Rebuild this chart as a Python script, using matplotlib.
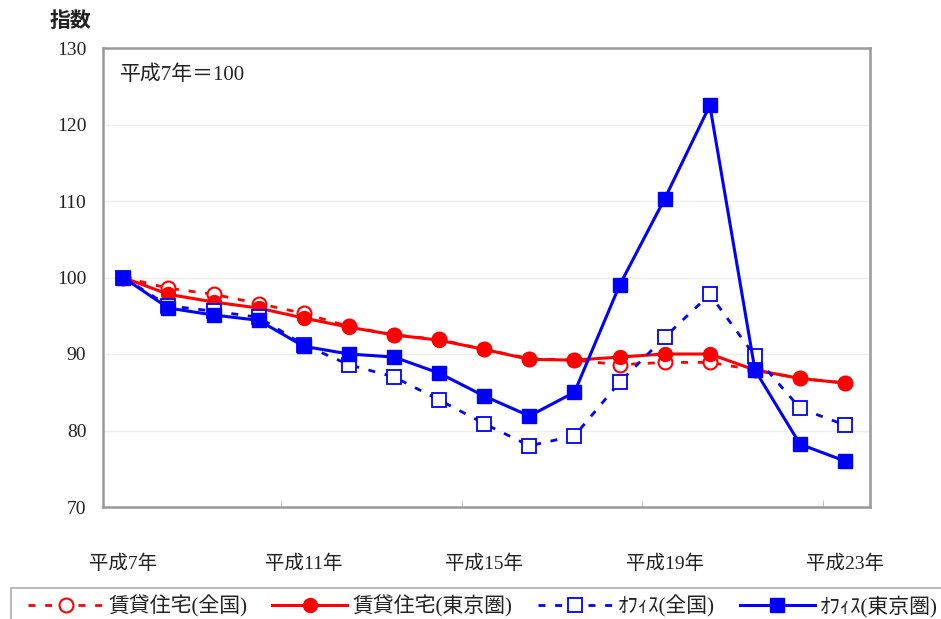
import matplotlib
matplotlib.use("Agg")
import matplotlib.pyplot as plt
from matplotlib.patches import Rectangle

plt.rcParams["font.family"] = ["Liberation Serif", "Noto Sans CJK JP"]

# 平成7年～平成23年, index (平成7年 = 100)
years = list(range(7, 24))
tick_labels = ["平成7年", "平成11年", "平成15年", "平成19年", "平成23年"]

rent_national = [100, 98.6, 97.8, 96.6, 95.3, 93.6, 92.5, 91.9, 90.6, 89.4,
                 89.2, 88.6, 88.9, 88.9, 87.9, 86.8, 86.2]
rent_tokyo = [100, 97.8, 96.8, 96.0, 94.7, 93.5, 92.5, 91.8, 90.6, 89.3,
              89.2, 89.6, 90.0, 90.0, 87.9, 86.8, 86.2]
office_national = [100, 96.3, 95.6, 94.8, 91.2, 88.6, 87.0, 84.0, 80.9, 78.0,
                   79.3, 86.3, 92.2, 97.8, 89.7, 82.9, 80.7]
office_tokyo = [100, 96.0, 95.1, 94.4, 91.0, 90.0, 89.6, 87.5, 84.5, 81.9,
                85.0, 99.0, 110.3, 122.5, 87.9, 78.2, 76.0]

labels = ["賃貸住宅(全国)", "賃貸住宅(東京圏)", "ｵﾌｨｽ(全国)", "ｵﾌｨｽ(東京圏)"]

RED = "#ff0000"
BLUE = "#0000ff"
TXT = "#222222"

fig = plt.figure(figsize=(9.41, 6.19), dpi=100)
ax = fig.add_axes([103 / 941, 1 - 507 / 619, 767 / 941, 459 / 619])

x = list(range(len(years)))
dash = (0, (2.5, 3.5))

h1, = ax.plot(x, rent_national, color=RED, lw=2.0, ls=dash, marker="o",
              ms=10, mfc="white", mec=RED, mew=1.5, label=labels[0])
h2, = ax.plot(x, rent_tokyo, color=RED, lw=2.2, marker="o", ms=10,
              mfc=RED, mec=RED, label=labels[1])
h3, = ax.plot(x, office_national, color=BLUE, lw=2.0, ls=dash, marker="s",
              ms=10, mfc="white", mec=BLUE, mew=1.3, label=labels[2])
h4, = ax.plot(x, office_tokyo, color=BLUE, lw=2.2, marker="s", ms=10,
              mfc=BLUE, mec=BLUE, label=labels[3])

ax.set_xlim(-0.45, len(years) - 0.45)
ax.set_ylim(70, 130)
ax.set_yticks(range(70, 131, 10))
ax.yaxis.grid(True, color="#eeeeee", lw=1)
ax.set_axisbelow(True)

ax.set_xticks([0, 4, 8, 12, 16])
ax.set_xticklabels(tick_labels)
ax.set_xticks([3.5, 7.5, 11.5, 15.5], minor=True)
ax.tick_params(axis="x", which="major", length=0, pad=34, labelsize=14,
               labelcolor=TXT)
ax.tick_params(axis="x", which="minor", direction="in", length=5,
               color="#bbbbbb")
ax.tick_params(axis="y", length=0, pad=12, labelsize=14, labelcolor=TXT)

for sp in ax.spines.values():
    sp.set_color("#999999")
    sp.set_linewidth(1.8)

ax.text(0.022, 0.94, "平成7年＝100", transform=ax.transAxes, fontsize=15,
        color=TXT, va="center", ha="left")
fig.text(70 / 941, 1 - 22 / 619, "指数", fontsize=15, fontweight="bold",
         color=TXT, ha="center", va="center")

# legend strip along the bottom edge
fig.patches.append(Rectangle((11 / 941, -0.05), 935 / 941, 0.05 + 31 / 619,
                             transform=fig.transFigure, fill=False,
                             edgecolor="#bbbbbb", lw=1.5))
fig.legend(handles=[h1, h2, h3, h4], loc="center", ncol=4,
           bbox_to_anchor=(483 / 941, 1 - 606 / 619), frameon=False,
           fontsize=15, handlelength=3.6, handletextpad=0.25,
           columnspacing=1.2, labelcolor=TXT)

fig.savefig("out.png", dpi=100)
